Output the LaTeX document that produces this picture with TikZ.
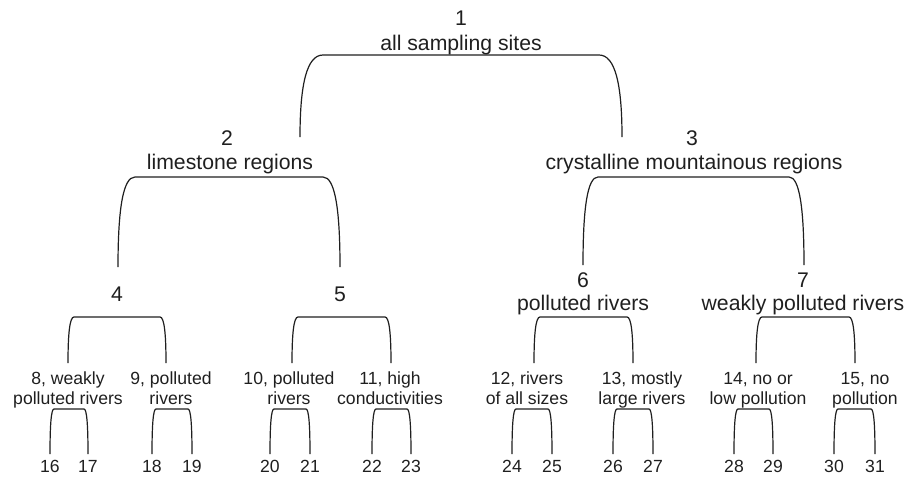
\documentclass[tikz,border=0pt]{standalone}
\usepackage{fontspec}
\setmainfont{Liberation Sans}
\newcommand{\brkt}[5]{%
  \draw[brk] (#1,#4) .. controls (#1,{#3+0.35*(#4-#3)}) and ({#1+0.3*#5},#3) .. ({#1+#5},#3)
    -- ({#2-#5},#3) .. controls ({#2-0.3*#5},#3) and (#2,{#3+0.35*(#4-#3)}) .. (#2,#4);}
\begin{document}
\begin{tikzpicture}[x=0.5pt,y=-0.5pt,
  big/.style={font=\fontsize{10.6}{12}\selectfont, anchor=base, inner sep=0pt, text=black!88},
  small/.style={font=\fontsize{8.8}{10}\selectfont, anchor=base, inner sep=0pt, text=black!88},
  brk/.style={line width=0.6pt, draw=black!88}]
\useasboundingbox (0,0) rectangle (916,477);
% labels
\node[big] (n1) at (461,25) {1};
\node[big] (n1t) at (461,50) {all sampling sites};
\node[big] (n2) at (227,145) {2};
\node[big] (n2t) at (230,169) {limestone regions};
\node[big] (n3) at (692,145) {3};
\node[big] (n3t) at (694,169) {crystalline mountainous regions};
\node[big] (n4) at (117,301) {4};
\node[big] (n5) at (340,301) {5};
\node[big] (n6) at (583,287) {6};
\node[big] (n6t) at (583,310) {polluted rivers};
\node[big] (n7) at (803,287) {7};
\node[big] (n7t) at (803,310) {weakly polluted rivers};
\node[small] (n8) at (68,384) {8, weakly};
\node[small] (n8t) at (68,404) {polluted rivers};
\node[small] (n9) at (171,384) {9, polluted};
\node[small] (n9t) at (171,404) {rivers};
\node[small] (n10) at (289,384) {10, polluted};
\node[small] (n10t) at (289,404) {rivers};
\node[small] (n11) at (390,384) {11, high};
\node[small] (n11t) at (390,404) {conductivities};
\node[small] (n12) at (527,384) {12, rivers};
\node[small] (n12t) at (527,404) {of all sizes};
\node[small] (n13) at (642,384) {13, mostly};
\node[small] (n13t) at (642,404) {large rivers};
\node[small] (n14) at (758,384) {14, no or};
\node[small] (n14t) at (758,404) {low pollution};
\node[small] (n15) at (865,384) {15, no};
\node[small] (n15t) at (865,404) {pollution};
\foreach \n/\x in {16/50,17/88,18/152,19/192,20/270,21/310,22/372,23/411,
                   24/512,25/552,26/613,27/653,28/734,29/773,30/834,31/875}
  {\node[small] (n\n) at (\x,472) {\n};}
% brackets
\brkt{300}{622}{55}{137}{23}
\brkt{118}{340}{177}{267}{17}
\brkt{583}{804}{177}{265}{15}
\brkt{68}{166}{317}{363}{6}
\brkt{292}{391}{317}{363}{6}
\brkt{534}{633}{317}{363}{6}
\brkt{756}{855}{317}{363}{6}
\foreach \a/\b in {50/88,152/192,270/310,372/411,512/552,613/653,734/773,834/875}
  {\brkt{\a}{\b}{409}{454}{4}}
\end{tikzpicture}
\end{document}
